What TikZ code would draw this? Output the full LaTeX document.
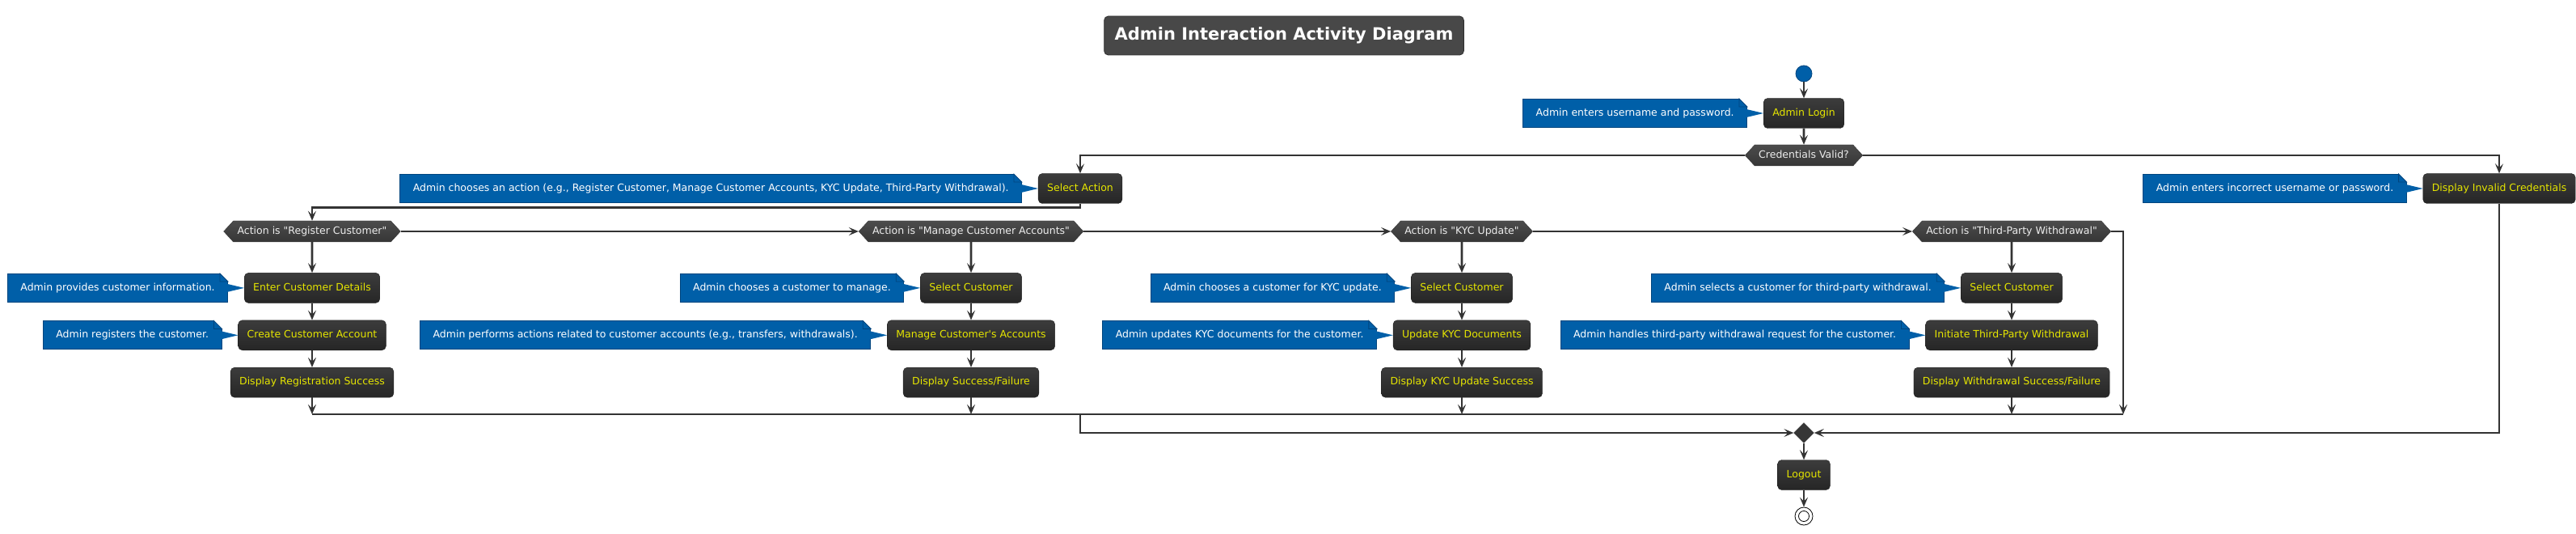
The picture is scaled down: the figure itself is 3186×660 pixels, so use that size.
\documentclass[tikz,border=0pt]{standalone}
\usepackage{fontspec}
\setmainfont{DejaVu Sans}
\usetikzlibrary{positioning,arrows.meta,shapes.geometric,shapes.symbols}
\definecolor{notebg}{HTML}{005FA8}
\definecolor{noteline}{HTML}{00457E}
\definecolor{boxtop}{HTML}{3C3C3C}
\definecolor{boxbot}{HTML}{262626}
\definecolor{boxline}{HTML}{1E1E1E}
\definecolor{acttext}{HTML}{E6E600}
\definecolor{hextop}{HTML}{4C4C4C}
\definecolor{hexbot}{HTML}{363636}
\definecolor{lineclr}{HTML}{333333}
\definecolor{titlebg}{HTML}{484848}
\definecolor{titleline}{HTML}{303030}

\begin{document}
\begin{tikzpicture}[
    x=1pt, y=-1pt,
    node distance=21pt and 20pt,
    txt/.style={font=\fontsize{12.5}{14}\selectfont, text height=9pt, text depth=2.6pt},
    act/.style={txt, draw=boxline, rounded corners=5pt, top color=boxtop, bottom color=boxbot, text=acttext, minimum height=37pt, inner xsep=11pt},
    annot/.style={txt, draw=noteline, line width=0.8pt, fill=notebg, text=white, minimum height=35pt, inner xsep=16pt},
    decision/.style={txt, signal, signal to=west and east, signal pointer angle=95, top color=hextop, bottom color=hexbot, draw=hexbot, text=white!93!black, minimum height=26pt, inner xsep=5pt, inner ysep=0pt},
    titlebox/.style={font=\bfseries\fontsize{21}{25}\selectfont, text=white, fill=titlebg, draw=titleline, line width=0.8pt, rounded corners=5pt, minimum height=48pt, inner xsep=13pt},
    startnode/.style={circle, fill=notebg, draw=noteline, line width=0.8pt, minimum size=20pt, inner sep=0pt},
    stopnode/.style={circle, draw=black, fill=white, line width=0.8pt, minimum size=22pt, inner sep=0pt},
    joint/.style={diamond, fill=hexbot, draw=hexbot, minimum size=25pt, inner sep=0pt},
    flow/.style={draw=lineclr, line width=2.6pt},
    arr/.style={flow, -{Stealth[length=12pt, width=10pt, inset=5pt]}},
]
\useasboundingbox (0,0) rectangle (3186,660);

% Title
\node[titlebox] (title) at (1588,44) {Admin Interaction Activity Diagram};

% Login
\node[startnode] (start) at (2231,91) {};
\node[act] (login) at (2231,140) {Admin Login};
\node[annot, left=of login] (nlogin) {Admin enters username and password.};
\node[decision] (creds) at (2231,192) {Credentials Valid?};

% Valid / invalid
\node[act] (selact) at (1336,233) {Select Action};
\node[annot, left=of selact] (nselact) {Admin chooses an action (e.g., Register Customer, Manage Customer Accounts, KYC Update, Third-Party Withdrawal).};
\node[act] (invalid) at (3091,233) {Display Invalid Credentials};
\node[annot, left=of invalid] (ninvalid) {Admin enters incorrect username or password.};

% Action choices
\node[decision] (isreg) at (386,286) {Action is \textquotedbl Register Customer\textquotedbl};
\node[decision] (ismng) at (1201,286) {Action is \textquotedbl Manage Customer Accounts\textquotedbl};
\node[decision] (iskyc) at (1808,286) {Action is \textquotedbl KYC Update\textquotedbl};
\node[decision] (istpw) at (2488,286) {Action is \textquotedbl Third-Party Withdrawal\textquotedbl};

% Register customer
\node[act, below=38pt of isreg] (regdet) {Enter Customer Details};
\node[annot, left=of regdet] (nregdet) {Admin provides customer information.};
\node[act, below=of regdet] (regacc) {Create Customer Account};
\node[annot, left=of regacc] (nregacc) {Admin registers the customer.};
\node[act, below=of regacc] (regok) {Display Registration Success};

% Manage accounts
\node[act, below=38pt of ismng] (mngsel) {Select Customer};
\node[annot, left=of mngsel] (nmngsel) {Admin chooses a customer to manage.};
\node[act, below=of mngsel] (mngacc) {Manage Customer\textquotesingle s Accounts};
\node[annot, left=of mngacc] (nmngacc) {Admin performs actions related to customer accounts (e.g., transfers, withdrawals).};
\node[act, below=of mngacc] (mngok) {Display Success/Failure};

% KYC update
\node[act, below=38pt of iskyc] (kycsel) {Select Customer};
\node[annot, left=of kycsel] (nkycsel) {Admin chooses a customer for KYC update.};
\node[act, below=of kycsel] (kycdoc) {Update KYC Documents};
\node[annot, left=of kycdoc] (nkycdoc) {Admin updates KYC documents for the customer.};
\node[act, below=of kycdoc] (kycok) {Display KYC Update Success};

% Third-party withdrawal
\node[act, below=38pt of istpw] (tpwsel) {Select Customer};
\node[annot, left=of tpwsel] (ntpwsel) {Admin selects a customer for third-party withdrawal.};
\node[act, below=of tpwsel] (tpwini) {Initiate Third-Party Withdrawal};
\node[annot, left=of tpwini] (ntpwini) {Admin handles third-party withdrawal request for the customer.};
\node[act, below=of tpwini] (tpwok) {Display Withdrawal Success/Failure};

% Merge and end
\coordinate (mreg) at (386,512);
\coordinate (mend) at (2626,512);
\node[joint] (join) at (2231,535) {};
\node[act] (logout) at (2231,587) {Logout};
\node[stopnode] (stop) at (2231,638) {};
\draw[line width=0.8pt] (stop.center) circle (6.5pt);

% Note folds and pointers
\foreach \n/\b in {nlogin/login, nselact/selact, ninvalid/invalid, nregdet/regdet, nregacc/regacc, nmngsel/mngsel, nmngacc/mngacc, nkycsel/kycsel, nkycdoc/kycdoc, ntpwsel/tpwsel, ntpwini/tpwini} {
  \fill[notebg] ([xshift=-1pt,yshift=5pt]\n.east) -- (\b.west) -- ([xshift=-1pt,yshift=-5pt]\n.east) -- cycle;
  \fill[white] ([shift={(-11,-1)}]\n.north east) -- ([shift={(1,-1)}]\n.north east) -- ([shift={(1,11)}]\n.north east) -- cycle;
  \draw[noteline, fill=notebg, line width=0.8pt] ([shift={(-10,0)}]\n.north east) -- ([shift={(0,10)}]\n.north east) -- ([shift={(-10,10)}]\n.north east) -- cycle;
}

% Connectors
\draw[arr] (start) -- (login);
\draw[arr] (login) -- (creds);
\draw[arr] (creds.west) -| (selact);
\draw[arr] (creds.east) -| (invalid);
\draw[arr] (selact.south) -- ++(0,5) -| (isreg);
\draw[arr] (isreg.east) -- (ismng.west);
\draw[arr] (ismng.east) -- (iskyc.west);
\draw[arr] (iskyc.east) -- (istpw.west);
\draw[arr] (istpw.east) -| (mend);
\draw[arr] (isreg) -- (regdet);
\draw[arr] (regdet) -- (regacc);
\draw[arr] (regacc) -- (regok);
\draw[arr] (regok) -- (mreg);
\draw[arr] (ismng) -- (mngsel);
\draw[arr] (mngsel) -- (mngacc);
\draw[arr] (mngacc) -- (mngok);
\draw[arr] (mngok) -- (mngok |- mreg);
\draw[arr] (iskyc) -- (kycsel);
\draw[arr] (kycsel) -- (kycdoc);
\draw[arr] (kycdoc) -- (kycok);
\draw[arr] (kycok) -- (kycok |- mreg);
\draw[arr] (istpw) -- (tpwsel);
\draw[arr] (tpwsel) -- (tpwini);
\draw[arr] (tpwini) -- (tpwok);
\draw[arr] (tpwok) -- (tpwok |- mreg);
\draw[flow] (mreg) -- (mend);
\draw[arr] (selact |- mreg) |- (join);
\draw[arr] (invalid) |- (join);
\draw[arr] (join) -- (logout);
\draw[arr] (logout) -- (stop);
\end{tikzpicture}
\end{document}
